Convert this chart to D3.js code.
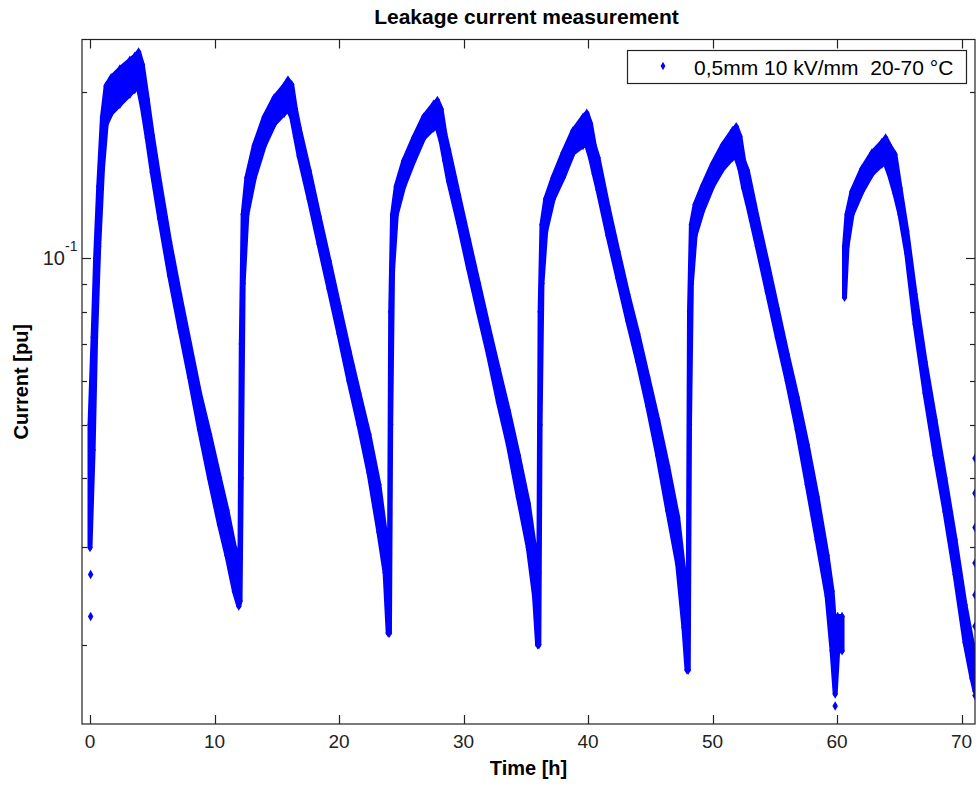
<!DOCTYPE html>
<html>
<head>
<meta charset="utf-8">
<script src="https://cdnjs.cloudflare.com/ajax/libs/d3/7.8.5/d3.min.js"></script>
<style>
  body { margin: 0; background: #fff; }
  svg { font-family: "Liberation Sans", Arial, sans-serif; }
  .title, .axis-label { font-weight: bold; fill: #000; }
  .tick-label { fill: #222; font-size: 19px; }
  .legend-text { font-size: 21px; fill: #000; white-space: pre; }
</style>
</head>
<body>
<div id="chart"></div>
<script>
// leakage current: lower / upper edge of the noisy band
var time = [
  0.0, 0.25, 0.45, 0.7, 1.0, 1.3, 1.7, 2.4, 3.2, 3.6, 3.9, 4.2, 4.6, 5.0, 5.6, 6.4, 7.2, 8.0, 8.8, 9.6, 10.4, 11.0, 11.6, 11.95,
  12.05, 12.15, 12.3, 12.6, 13.2, 14.0, 14.8, 15.6, 15.9, 16.2, 16.5, 16.8, 17.6, 18.4, 19.2, 20.0, 20.8, 21.6, 22.4, 23.2, 23.7, 23.95,
  24.05, 24.15, 24.3, 24.6, 25.2, 26.0, 26.8, 27.6, 27.9, 28.2, 28.5, 28.8, 29.6, 30.4, 31.2, 32.0, 32.8, 33.6, 34.4, 35.2, 35.7, 35.95,
  36.05, 36.15, 36.3, 36.6, 37.2, 38.0, 38.8, 39.6, 39.9, 40.2, 40.5, 40.8, 41.6, 42.4, 43.2, 44.0, 44.8, 45.6, 46.4, 47.2, 47.7, 47.95,
  48.05, 48.15, 48.3, 48.6, 49.2, 50.0, 50.8, 51.6, 51.9, 52.2, 52.5, 52.8, 53.6, 54.4, 55.2, 56.0, 56.8, 57.6, 58.4, 59.2, 59.6, 59.85,
  60.05, 60.4, 60.5, 60.6, 60.8, 61.2, 62.0, 62.8, 63.6, 63.9, 64.2, 64.65, 65.06, 65.6, 66.27, 67.07, 67.87, 68.67, 69.48, 70.28, 70.84, 71.08
];
var currentLow = [
  0.030, 0.045, 0.072, 0.105, 0.145, 0.175, 0.183, 0.190, 0.198, 0.202, 0.203, 0.188, 0.165, 0.143, 0.118, 0.093, 0.075, 0.061, 0.049, 0.040, 0.033, 0.029, 0.025, 0.0235,
  0.024, 0.040, 0.090, 0.120, 0.140, 0.160, 0.175, 0.183, 0.186, 0.180, 0.166, 0.153, 0.128, 0.106, 0.088, 0.073, 0.060, 0.050, 0.041, 0.032, 0.027, 0.021,
  0.021, 0.050, 0.095, 0.120, 0.135, 0.150, 0.165, 0.172, 0.172, 0.163, 0.150, 0.138, 0.116, 0.096, 0.080, 0.067, 0.055, 0.046, 0.037, 0.030, 0.0245, 0.020,
  0.020, 0.050, 0.090, 0.112, 0.128, 0.140, 0.155, 0.160, 0.160, 0.152, 0.142, 0.133, 0.110, 0.092, 0.077, 0.065, 0.054, 0.044, 0.035, 0.028, 0.0215, 0.018,
  0.018, 0.050, 0.090, 0.110, 0.122, 0.135, 0.145, 0.152, 0.152, 0.145, 0.134, 0.126, 0.105, 0.087, 0.072, 0.060, 0.049, 0.039, 0.031, 0.0245, 0.0195, 0.0163,
  0.0195, 0.0195, null, 0.085, 0.105, 0.120, 0.132, 0.142, 0.148, 0.148, 0.142, 0.131, 0.120, 0.102, 0.076, 0.057, 0.044, 0.0348, 0.0268, 0.0202, 0.0174, 0.0165
];
var currentHigh = [
  0.050, 0.072, 0.100, 0.135, 0.180, 0.205, 0.212, 0.220, 0.228, 0.232, 0.236, 0.224, 0.194, 0.167, 0.137, 0.107, 0.086, 0.070, 0.057, 0.048, 0.040, 0.035, 0.030, 0.028,
  0.030, 0.070, 0.120, 0.140, 0.160, 0.180, 0.195, 0.205, 0.210, 0.206, 0.186, 0.172, 0.144, 0.119, 0.099, 0.082, 0.068, 0.057, 0.048, 0.039, 0.032, 0.027,
  0.027, 0.080, 0.120, 0.135, 0.150, 0.165, 0.180, 0.190, 0.193, 0.186, 0.168, 0.157, 0.130, 0.108, 0.090, 0.075, 0.063, 0.053, 0.044, 0.036, 0.030, 0.026,
  0.027, 0.080, 0.115, 0.128, 0.140, 0.155, 0.170, 0.180, 0.183, 0.175, 0.160, 0.152, 0.124, 0.103, 0.086, 0.073, 0.061, 0.051, 0.042, 0.034, 0.027, 0.022,
  0.024, 0.080, 0.115, 0.125, 0.135, 0.148, 0.160, 0.170, 0.173, 0.166, 0.150, 0.144, 0.118, 0.098, 0.081, 0.067, 0.056, 0.046, 0.037, 0.029, 0.025, 0.021,
  0.0225, 0.0225, null, 0.105, 0.120, 0.132, 0.145, 0.155, 0.162, 0.165, 0.160, 0.154, 0.134, 0.112, 0.086, 0.065, 0.051, 0.040, 0.031, 0.0236, 0.0202, 0.0190
];
// single samples lying away from the band
var strayTime = [0.05, 0.05, 59.85, 71.08, 71.08, 71.08, 71.08, 71.08, 71.08, 71.08];
var strayCurrent = [0.0268, 0.0225, 0.0155, 0.0435, 0.0376, 0.0326, 0.0281, 0.0246, 0.0216, 0.0162];

var xTicks = [0, 10, 20, 30, 40, 50, 60, 70];
var yMajorTicks = [0.1];
var yMinorTicks = [0.02, 0.03, 0.04, 0.05, 0.06, 0.07, 0.08, 0.09, 0.2];
var legendLabel = "0,5mm 10 kV/mm  20-70 \u00B0C";
var blue = "#0000ff";

var width = 977, height = 787;
var plotLeft = 82, plotRight = 975, plotTop = 39.5, plotBottom = 724;

var svg = d3.select("#chart").append("svg")
    .attr("width", width)
    .attr("height", height);

var x = d3.scaleLinear().domain([-0.643, 71.08]).range([plotLeft, plotRight]);
var y = d3.scaleLog().domain([0.01438, 0.2487]).range([plotBottom, plotTop]);

svg.append("defs").append("clipPath").attr("id", "plotclip")
  .append("rect")
    .attr("x", plotLeft).attr("y", plotTop)
    .attr("width", plotRight - plotLeft).attr("height", plotBottom - plotTop);

var rows = time.map(function(t, i) {
  return { t: t, lo: currentLow[i], hi: currentHigh[i] };
});

var plot = svg.append("g").attr("clip-path", "url(#plotclip)");

var band = d3.area()
    .defined(function(d) { return d.lo !== null; })
    .x(function(d) { return x(d.t); })
    .y0(function(d) { return y(d.lo); })
    .y1(function(d) { return y(d.hi); });

plot.append("path")
    .datum(rows)
    .attr("d", band)
    .attr("fill", blue)
    .attr("stroke", blue)
    .attr("stroke-width", 5)
    .attr("stroke-linejoin", "round");

var diamond = d3.symbol().type(d3.symbolDiamond).size(26);
var pts = [];
rows.forEach(function(d) {
  if (d.lo === null) return;
  pts.push([d.t, d.lo]);
  pts.push([d.t, d.hi]);
});
strayTime.forEach(function(t, i) { pts.push([t, strayCurrent[i]]); });

plot.selectAll("path.pt")
  .data(pts)
  .enter().append("path")
    .attr("class", "pt")
    .attr("d", diamond)
    .attr("transform", function(d) { return "translate(" + x(d[0]) + "," + y(d[1]) + ")"; })
    .attr("fill", blue);

// axes box
svg.append("rect")
    .attr("x", plotLeft).attr("y", plotTop)
    .attr("width", plotRight - plotLeft).attr("height", plotBottom - plotTop)
    .attr("fill", "none")
    .attr("stroke", "#222")
    .attr("stroke-width", 1.2);

var ticks = svg.append("g").attr("stroke", "#222").attr("stroke-width", 1.2);
xTicks.forEach(function(v) {
  var px = Math.round(x(v)) + 0.5;
  ticks.append("line").attr("x1", px).attr("x2", px).attr("y1", plotBottom).attr("y2", plotBottom - 9);
  ticks.append("line").attr("x1", px).attr("x2", px).attr("y1", plotTop).attr("y2", plotTop + 9);
});
yMajorTicks.concat(yMinorTicks).forEach(function(v) {
  var len = yMajorTicks.indexOf(v) >= 0 ? 9 : 5;
  var py = Math.round(y(v)) + 0.5;
  ticks.append("line").attr("x1", plotLeft).attr("x2", plotLeft + len).attr("y1", py).attr("y2", py);
  ticks.append("line").attr("x1", plotRight).attr("x2", plotRight - len).attr("y1", py).attr("y2", py);
});

svg.selectAll("text.xtick")
  .data(xTicks)
  .enter().append("text")
    .attr("class", "tick-label")
    .attr("x", function(d) { return x(d); })
    .attr("y", 748)
    .attr("text-anchor", "middle")
    .text(function(d) { return d; });

yMajorTicks.forEach(function(v) {
  svg.append("text")
      .attr("class", "tick-label")
      .attr("x", 65)
      .attr("y", y(v) + 7)
      .attr("text-anchor", "end")
      .style("font-size", "20px")
      .text("10");
  svg.append("text")
      .attr("class", "tick-label")
      .attr("x", 65)
      .attr("y", y(v) - 7)
      .style("font-size", "14px")
      .text("-1");
});

svg.append("text")
    .attr("class", "title")
    .attr("x", (plotLeft + plotRight) / 2 - 2)
    .attr("y", 24)
    .attr("text-anchor", "middle")
    .style("font-size", "21px")
    .text("Leakage current measurement");

svg.append("text")
    .attr("class", "axis-label")
    .attr("x", (plotLeft + plotRight) / 2)
    .attr("y", 775)
    .attr("text-anchor", "middle")
    .style("font-size", "20px")
    .text("Time [h]");

svg.append("text")
    .attr("class", "axis-label")
    .attr("transform", "translate(28," + ((plotTop + plotBottom) / 2) + ") rotate(-90)")
    .attr("text-anchor", "middle")
    .style("font-size", "20px")
    .text("Current [pu]");

// legend
var legend = svg.append("g");
legend.append("rect")
    .attr("x", 627.5).attr("y", 50.5)
    .attr("width", 339).attr("height", 33)
    .attr("fill", "#fff")
    .attr("stroke", "#222")
    .attr("stroke-width", 1.2);
legend.append("path")
    .attr("d", d3.symbol().type(d3.symbolDiamond).size(20))
    .attr("transform", "translate(663,66)")
    .attr("fill", blue);
legend.append("text")
    .attr("class", "legend-text")
    .attr("x", 694)
    .attr("y", 75)
    .text(legendLabel);
</script>
</body>
</html>
